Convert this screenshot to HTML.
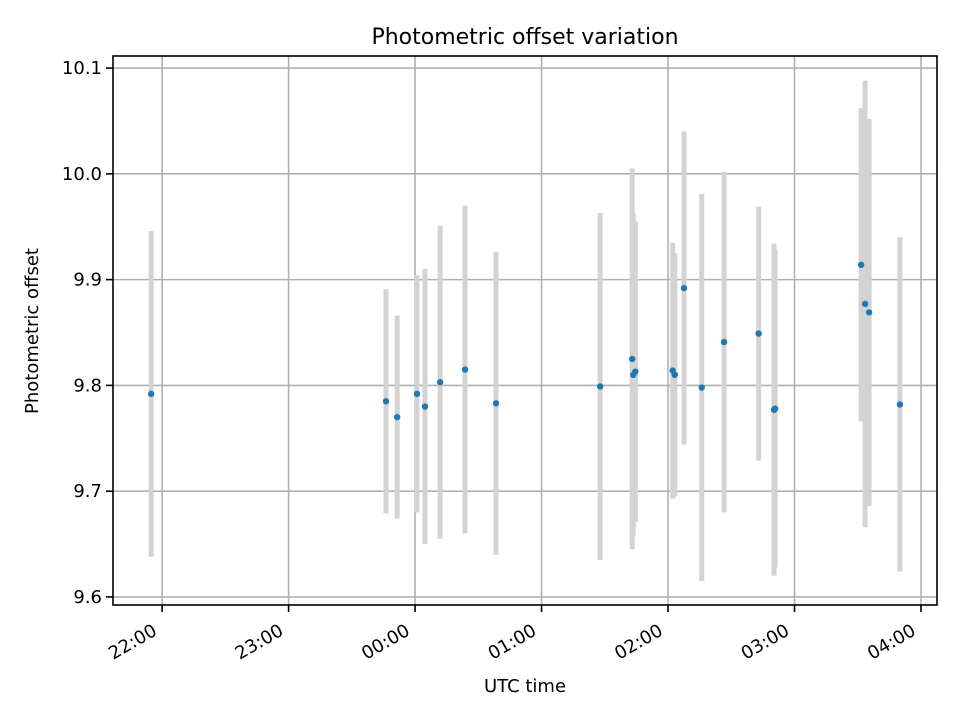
<!DOCTYPE html>
<html><head><meta charset="utf-8"><style>
body{margin:0;background:#fff;}
svg{font-family:"DejaVu Sans","Liberation Sans",sans-serif;}
</style></head><body>
<svg id="chart" width="960" height="720" xmlns="http://www.w3.org/2000/svg">
<rect width="960" height="720" fill="#fff"/>
<text x="525" y="44" text-anchor="middle" style="font-size:22px">Photometric offset variation</text>
<text x="525" y="692" text-anchor="middle" style="font-size:18px">UTC time</text>
<text transform="translate(38,331) rotate(-90)" text-anchor="middle" style="font-size:18px">Photometric offset</text>
<g id="grid"></g><g id="bars"></g><g id="pts"></g><g id="axes"></g>
</svg>
<script>
// minutes relative to 00:00 UTC
const times = [-125.2,-13.8,-8.5,0.9,4.7,11.9,23.7,38.4,87.8,103,103.5,104.5,122.2,123.2,127.6,136,146.6,163,170.3,170.8,211.6,213.5,215.4,230];
const values = [9.792,9.785,9.770,9.792,9.780,9.803,9.815,9.783,9.799,9.825,9.810,9.813,9.814,9.810,9.892,9.798,9.841,9.849,9.777,9.778,9.914,9.877,9.869,9.782];
const errors = [0.154,0.106,0.096,0.112,0.13,0.148,0.155,0.143,0.164,0.18,0.153,0.142,0.121,0.115,0.148,0.183,0.161,0.12,0.157,0.15,0.148,0.211,0.183,0.158];
const yTicks = [9.6,9.7,9.8,9.9,10.0,10.1];
const yTickLabels = ["9.6","9.7","9.8","9.9","10.0","10.1"];
const xTicks = [-120,-60,0,60,120,180,240];
const xTickLabels = ["22:00","23:00","00:00","01:00","02:00","03:00","04:00"];
const L=113,R=937,T=56,B=605;
const xMin=-143.3,xMax=247.6,yMin=9.5924,yMax=10.1114;
const X=v=>L+(v-xMin)/(xMax-xMin)*(R-L);
const Y=v=>B-(v-yMin)/(yMax-yMin)*(B-T);
const NS="http://www.w3.org/2000/svg";
function mk(tag,parent,attrs){const e=document.createElementNS(NS,tag);for(const k in attrs)e.setAttribute(k,attrs[k]);document.getElementById(parent).appendChild(e);return e;}
yTicks.forEach((t,i)=>{
 let g=mk('line','grid',{x1:L,x2:R,y1:Y(t),y2:Y(t),stroke:'#b0b0b0','stroke-width':1.6});
 
 
 mk('line','axes',{x1:L-7,x2:L,y1:Y(t),y2:Y(t),stroke:'#000','stroke-width':1.6});
 let tx=mk('text','axes',{x:L-11,y:Y(t)+6,'text-anchor':'end',style:'font-size:18px'});
 tx.textContent=yTickLabels[i];
 
 
});
xTicks.forEach((t,i)=>{
 let g=mk('line','grid',{x1:X(t),x2:X(t),y1:T,y2:B,stroke:'#b0b0b0','stroke-width':1.6});
 
 
 mk('line','axes',{x1:X(t),x2:X(t),y1:B,y2:B+7,stroke:'#000','stroke-width':1.6});
 const ax=X(t)-4, ay=B+29;
 let tx=mk('text','axes',{x:ax,y:ay,'text-anchor':'end',style:'font-size:18px',transform:`rotate(-30 ${ax} ${ay})`});
 tx.textContent=xTickLabels[i];
 
 
});
let fr=mk('rect','axes',{x:L,y:T,width:R-L,height:B-T,fill:'none',stroke:'#000','stroke-width':1.6});


times.forEach((t,i)=>{
 let b=mk('line','bars',{x1:X(t),x2:X(t),y1:Y(values[i]+errors[i]),y2:Y(values[i]-errors[i]),stroke:'#d3d3d3','stroke-width':5});
 
 
 let c=mk('circle','pts',{cx:X(t),cy:Y(values[i]),r:3.2,fill:'#1f77b4'});
 
 
});
</script>
</body></html>
